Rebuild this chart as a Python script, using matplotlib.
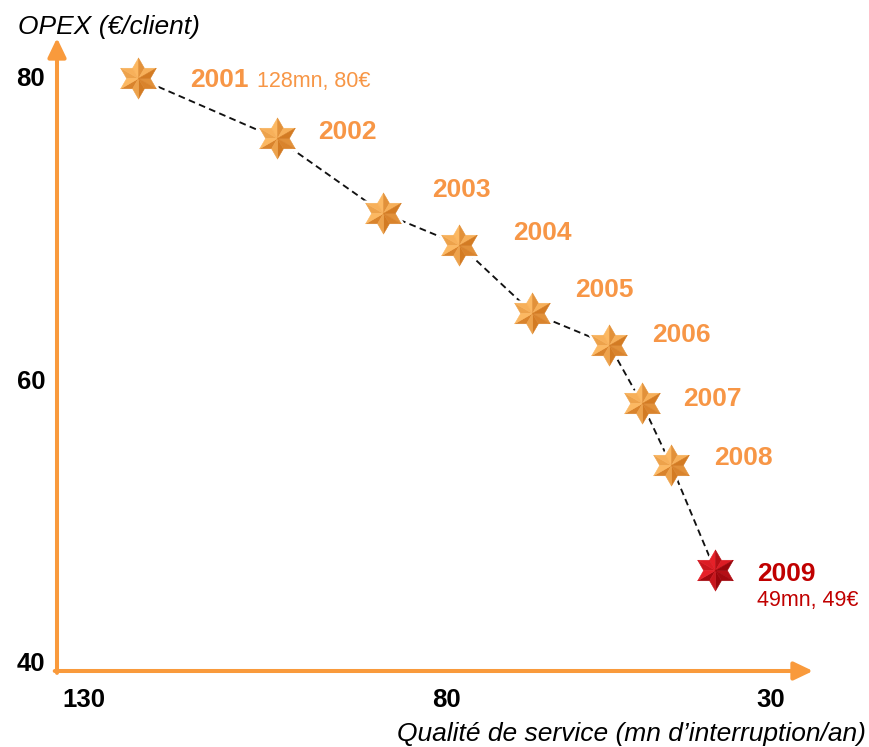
import numpy as np
import matplotlib
matplotlib.use("Agg")
import matplotlib.pyplot as plt
from matplotlib.path import Path
from matplotlib.colors import to_rgb

plt.rcParams['font.family'] = ['Liberation Sans', 'DejaVu Sans']

# ---- data -------------------------------------------------------------
years = ['2001', '2002', '2003', '2004', '2005', '2006', '2007', '2008', '2009']
qos_minutes = [128, 109, 94.5, 84, 74, 63.5, 59, 55, 49]      # mn d'interruption / an
opex_eur = [80, 76.2, 71.5, 69.5, 65.2, 63.2, 59.5, 55.6, 49]  # € / client
notes = {'2001': '128mn, 80€', '2009': '49mn, 49€'}
x_tick_labels = ['130', '80', '30']
y_tick_labels = ['80', '60', '40']
highlight_year = '2009'

# ---- styling / layout -------------------------------------------------
W, H = 869, 747
ORANGE = '#F79646'
AXIS_ORANGE = '#F99A3C'
RED = '#C00000'
# label offsets from each star (pixels, right / up) to the text baseline
label_offsets = {
    '2001': (52, -9), '2002': (41, -1), '2003': (49, 16), '2004': (54, 5),
    '2005': (43, 16), '2006': (43, 3), '2007': (41, -3), '2008': (43, 0),
    '2009': (42, -11),
}
note_offsets = {'2001': (119, -9), '2009': (42, -36)}

fig = plt.figure(figsize=(W / 100, H / 100), dpi=100)
ax_left, ax_right, ax_bottom, ax_top = 57, 813, 671, 38
ax = fig.add_axes([ax_left / W, 1 - ax_bottom / H,
                   (ax_right - ax_left) / W, (ax_bottom - ax_top) / H])
ax.set_xlim(139.1, 35.58)
ax.set_ylim(42.64, 82.52)
ax.axis('off')


def fig_xy(px, py):
    return px / W, 1 - py / H


# axes drawn as arrows
arrow_kw = dict(arrowstyle='-|>,head_length=1.15,head_width=0.55',
                mutation_scale=10, color=AXIS_ORANGE, lw=2.9,
                shrinkA=0, shrinkB=0)
ax.annotate('', xy=(1, 0), xytext=(-0.003, 0), xycoords='axes fraction',
            textcoords='axes fraction', arrowprops=arrow_kw, annotation_clip=False)
ax.annotate('', xy=(0, 1), xytext=(0, -0.003), xycoords='axes fraction',
            textcoords='axes fraction', arrowprops=arrow_kw, annotation_clip=False)

# tick labels
tick_font = dict(fontsize=18.5, fontweight='bold', color='black')
for lab, px in zip(x_tick_labels, [84, 446, 771]):
    fig.text(*fig_xy(px, 707), lab, ha='center', va='baseline', **tick_font)
for lab, py in zip(y_tick_labels, [86, 389, 671]):
    fig.text(*fig_xy(45, py), lab, ha='right', va='baseline', **tick_font)

fig.text(*fig_xy(18, 34), 'OPEX (€/client)', fontsize=19, style='italic',
         ha='left', va='baseline')
fig.text(*fig_xy(866, 741), 'Qualité de service (mn d’interruption/an)',
         fontsize=19, style='italic', ha='right', va='baseline')

# dashed trajectory
ax.plot(qos_minutes, opex_eur, color='#111111', lw=1.35,
        linestyle=(0, (3.6, 2.3)), zorder=2)

# ---- bevelled six-pointed star markers ---------------------------------
R_OUT, R_IN = 1.0, 1 / np.sqrt(3)
outer = [np.deg2rad(90 + 60 * k) for k in range(6)]
inner = [a + np.deg2rad(30) for a in outer]
O = [(R_OUT * np.cos(a), R_OUT * np.sin(a)) for a in outer]
I = [(R_IN * np.cos(a), R_IN * np.sin(a)) for a in inner]

outline = []
for k in range(6):
    outline += [O[k], I[k]]
outline_path = Path([(1, 1)] + outline + [outline[0]],
                    [Path.MOVETO, Path.MOVETO] + [Path.LINETO] * (len(outline) - 1)
                    + [Path.CLOSEPOLY])

# each facet: (first vertex, second vertex, in-plane normal angle)
facets = []
for k in range(6):
    facets.append((O[k], I[k], outer[k] + np.deg2rad(60)))
    facets.append((I[k - 1], O[k], outer[k] - np.deg2rad(60)))

light = np.array([np.cos(np.deg2rad(135)), np.sin(np.deg2rad(135)), 1.1])
light /= np.linalg.norm(light)
SLOPE = 0.9


def facet_path(p, q):
    return Path([(1, 1), (0, 0), p, q, (0, 0)],
                [Path.MOVETO, Path.MOVETO, Path.LINETO, Path.LINETO, Path.CLOSEPOLY])


def shade(light_c, dark_c, t):
    l, d = np.array(to_rgb(light_c)), np.array(to_rgb(dark_c))
    return tuple(np.clip(d + (l - d) * t, 0, 1))


palettes = {'normal': ('#FCB862', '#CC7018'), 'highlight': ('#E62028', '#8A0006')}
MS = 29.5

intens = []
for p, q, ang in facets:
    n = np.array([SLOPE * np.cos(ang), SLOPE * np.sin(ang), 1.0])
    n /= np.linalg.norm(n)
    intens.append(float(n @ light))
lo, hi = min(intens), max(intens)
tvals = [(v - lo) / (hi - lo) for v in intens]

for yr, xv, yv in zip(years, qos_minutes, opex_eur):
    pal = palettes['highlight' if yr == highlight_year else 'normal']
    ax.plot([xv], [yv], marker=outline_path, ms=MS + 2, mfc='white', mec='white',
            mew=3, zorder=3, linestyle='none')
    for (p, q, ang), t in zip(facets, tvals):
        c = shade(pal[0], pal[1], 0.15 + 0.85 * t)
        ax.plot([xv], [yv], marker=facet_path(p, q), ms=MS, mfc=c, mec=c,
                mew=0.4, zorder=4, linestyle='none')

# ---- year labels and notes ---------------------------------------------
for yr, xv, yv in zip(years, qos_minutes, opex_eur):
    col = RED if yr == highlight_year else ORANGE
    ax.annotate(yr, (xv, yv), xytext=label_offsets[yr], textcoords='offset pixels',
                fontsize=19, fontweight='bold', color=col, ha='left', va='baseline',
                zorder=5)
    if yr in notes:
        ax.annotate(notes[yr], (xv, yv), xytext=note_offsets[yr],
                    textcoords='offset pixels', fontsize=15.5, color=col,
                    ha='left', va='baseline', zorder=5)

fig.savefig('out.png', dpi=100, facecolor='white')
